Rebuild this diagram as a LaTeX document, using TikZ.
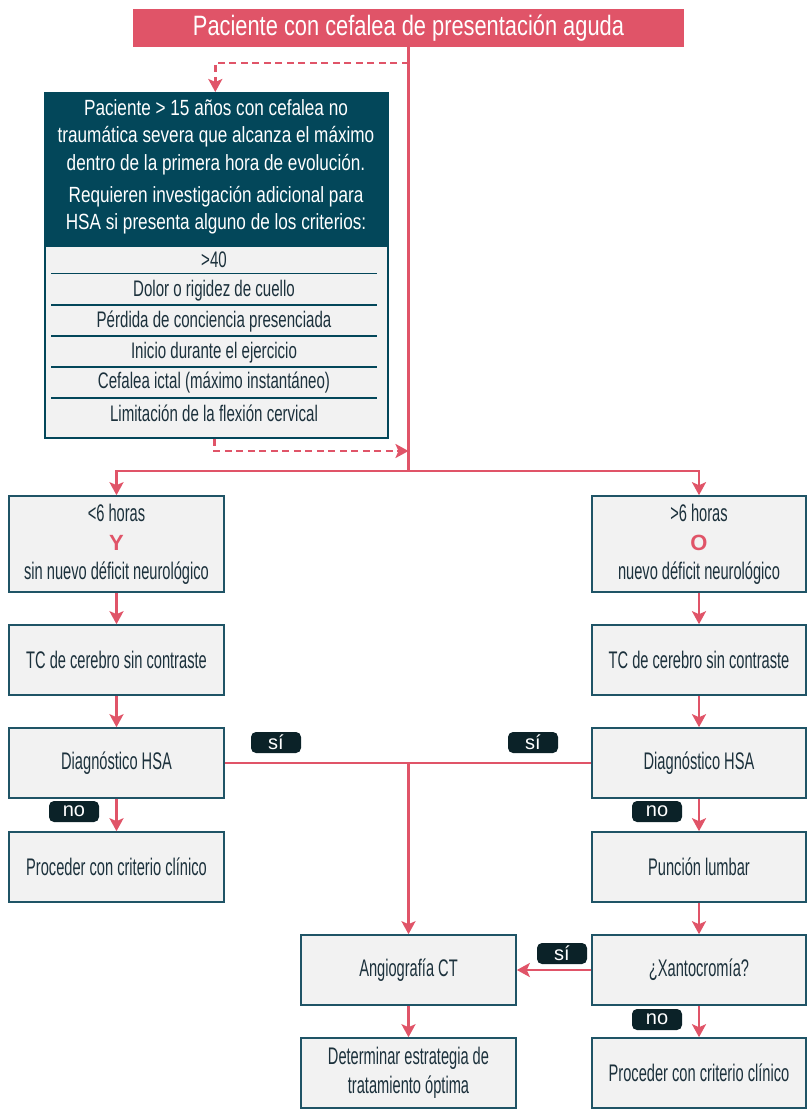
\documentclass[tikz,border=0pt]{standalone}
\usepackage{fontspec}
\setmainfont{Liberation Sans}
\newfontfamily\condf{Liberation Sans}[FakeStretch=0.67]
\newfontfamily\boxf{Liberation Sans}[FakeStretch=0.61]
\newfontfamily\semif{Liberation Sans}[FakeStretch=0.78]
\usetikzlibrary{arrows.meta}
\definecolor{hpink}{HTML}{E05468}
\definecolor{hteal}{HTML}{03475A}
\definecolor{hbox}{HTML}{F2F2F2}
\definecolor{hborder}{HTML}{1F5466}
\definecolor{htxt}{HTML}{1C313C}
\definecolor{hlab}{HTML}{0B2228}
\tikzset{
  box/.style={draw=hborder, fill=hbox, line width=1.6pt, minimum width=215pt, minimum height=70pt,
    inner sep=0pt, align=center, text=htxt, font=\boxf\fontsize{24}{29}\selectfont},
  lab/.style={fill=hlab, rounded corners=5pt, minimum width=50pt, minimum height=21pt, inner sep=0pt,
    text=white, font=\rmfamily\fontsize{20}{20}\selectfont},
  pline/.style={draw=hpink, line width=2.5pt},
  dline/.style={draw=hpink, line width=2.5pt, dash pattern=on 7pt off 4.5pt},
  arr/.style={-{Stealth[length=13pt,width=14pt,inset=3pt]}},
  crittxt/.style={text=htxt, font=\condf\fontsize{22.5}{26}\selectfont, inner sep=0pt},
  rule/.style={draw=hteal, line width=1.3pt}
}
\begin{document}
\begin{tikzpicture}[x=1pt,y=-1pt]
\useasboundingbox (0,0) rectangle (806,1111);
% title
\node[fill=hpink, minimum width=551pt, minimum height=38pt, inner sep=0pt, text=white,
  font=\semif\fontsize{28}{30}\selectfont] (title) at (408.5,28) {Paciente con cefalea de presentación aguda};
% criteria box
\node[draw=hteal, fill=hbox, line width=1.6pt, minimum width=343pt, minimum height=345pt, inner sep=0pt, anchor=north west] (crit) at (44,92) {};
\fill[hteal] (crit.north west) rectangle ([yshift=-155pt]crit.north east);
\node[text=white, align=center, inner sep=0pt, font=\semif\fontsize{22}{27.5}\selectfont] (hdr) at (216,167)
  {Paciente > 15 años con cefalea no\\ traumática severa que alcanza el máximo\\ dentro de la primera hora de evolución.\\[4.5pt] Requieren investigación adicional para\\ HSA si presenta alguno de los criterios:};
\node[crittxt] (c1) at (214,260) {>40};
\node[crittxt] (c2) at (214,291) {Dolor o rigidez de cuello};
\node[crittxt] (c3) at (214,322) {Pérdida de conciencia presenciada};
\node[crittxt] (c4) at (214,352.5) {Inicio durante el ejercicio};
\node[crittxt] (c5) at (214,383) {Cefalea ictal (máximo instantáneo)};
\node[crittxt] (c6) at (214,413.5) {Limitación de la flexión cervical};
\foreach \yy in {273.5,305,336,367,398} \draw[rule] (51,\yy) -- (377,\yy);
% left column
\node[box, minimum height=96pt] (b1l) at (116.5,544) {<6 horas\\ {\rmfamily\bfseries\color{hpink}\fontsize{22}{22}\selectfont Y}\\ sin nuevo déficit neurológico};
\node[box] (tcl) at (116.5,660) {TC de cerebro sin contraste};
\node[box] (dgl) at (116.5,763) {Diagnóstico HSA};
\node[box] (prl) at (116.5,867) {Proceder con criterio clínico};
% right column
\node[box, minimum width=214pt, minimum height=96pt] (b1r) at (699,544) {>6 horas\\ {\rmfamily\bfseries\color{hpink}\fontsize{22}{22}\selectfont O}\\ nuevo déficit neurológico};
\node[box, minimum width=214pt] (tcr) at (699,660) {TC de cerebro sin contraste};
\node[box, minimum width=214pt] (dgr) at (699,763) {Diagnóstico HSA};
\node[box, minimum width=214pt] (pun) at (699,867) {Punción lumbar};
\node[box, minimum width=214pt] (xan) at (699,970) {¿Xantocromía?};
\node[box, minimum width=214pt] (prr) at (699,1073) {Proceder con criterio clínico};
% middle
\node[box] (ang) at (408.5,970) {Angiografía CT};
\node[box] (det) at (408.5,1073) {Determinar estrategia de\\ tratamiento óptima};
% connectors
\coordinate (split) at (408.5,471);
\coordinate (dt) at (408.5,63);
\coordinate (db) at (408.5,451);
\coordinate (jn) at (408.5,763);
\draw[pline] (title.south) -- (split);
\draw[pline,arr] (split) -| (b1l.north);
\draw[pline,arr] (split) -| (b1r.north);
\draw[dline,arr] (dt) -| ([xshift=-1pt]crit.north);
\draw[dline,arr] ([xshift=-2pt]crit.south) |- (db);
\draw[pline,arr] (b1l.south) -- (tcl.north);
\draw[pline,arr] (tcl.south) -- (dgl.north);
\draw[pline,arr] (dgl.south) -- (prl.north);
\draw[pline,arr] (b1r.south) -- (tcr.north);
\draw[pline,arr] (tcr.south) -- (dgr.north);
\draw[pline,arr] (dgr.south) -- (pun.north);
\draw[pline,arr] (pun.south) -- (xan.north);
\draw[pline,arr] (xan.south) -- (prr.north);
\draw[pline,arr] (xan.west) -- (ang.east);
\draw[pline,arr] (ang.south) -- (det.north);
\draw[pline] (dgl.east) -- (dgr.west);
\draw[pline,arr] (jn) -- (ang.north);
% labels
\node[lab] (s1) at (276,742.5) {sí};
\node[lab] (s2) at (533,742.5) {sí};
\node[lab] (n1) at (74,811.5) {no};
\node[lab] (n2) at (657,811.5) {no};
\node[lab] (s3) at (562,953.5) {sí};
\node[lab] (n3) at (657,1019.5) {no};
\end{tikzpicture}
\end{document}
